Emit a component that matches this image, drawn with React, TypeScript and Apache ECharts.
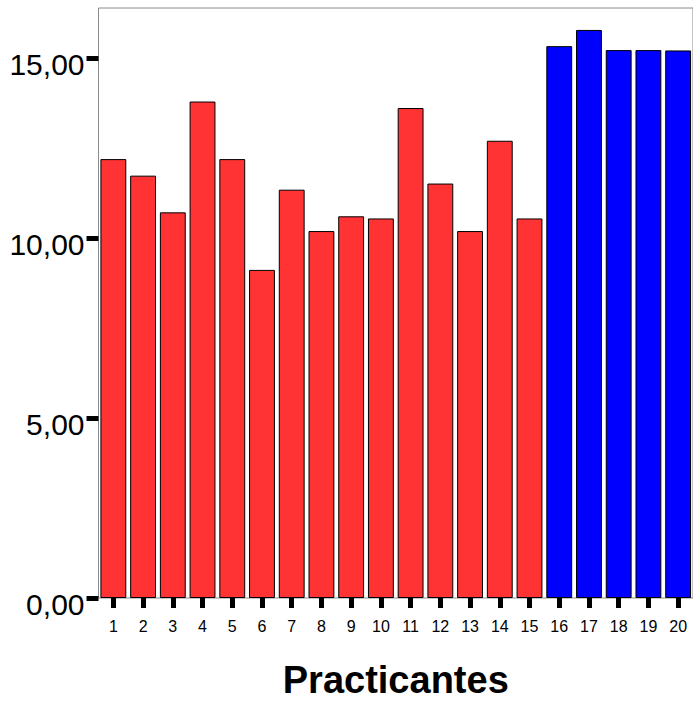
import React, { useEffect, useRef } from "react";
import * as echarts from "echarts";

const categories = ["1","2","3","4","5","6","7","8","9","10","11","12","13","14","15","16","17","18","19","20"];
const values = [12.2, 11.74, 10.72, 13.8, 12.2, 9.12, 11.35, 10.2, 10.61, 10.55, 13.62, 11.52, 10.2, 12.71, 10.55, 15.34, 15.79, 15.23, 15.23, 15.22];
const groups = ["A","A","A","A","A","A","A","A","A","A","A","A","A","A","A","B","B","B","B","B"];
const yTicks = [0, 5, 10, 15];
const xTitle = "Practicantes";

const groupColor: Record<string, string> = { A: "#FF3333", B: "#0000FF" };

export default function App() {
  const ref = useRef<HTMLDivElement>(null);
  useEffect(() => {
    if (!ref.current) return;
    const chart = echarts.init(ref.current, undefined, { renderer: "svg" });
    chart.setOption({
      animation: false,
      backgroundColor: "#ffffff",
      textStyle: { fontFamily: "Liberation Sans, Arial, sans-serif" },
      grid: {
        left: 98.5,
        right: -3.7,
        top: 8,
        bottom: 103,
        show: true,
        borderColor: "#8a8a8a",
        borderWidth: 1,
        backgroundColor: "transparent",
      },
      xAxis: {
        type: "category",
        data: categories,
        name: xTitle,
        nameLocation: "middle",
        nameGap: 63,
        nameTextStyle: { fontSize: 38, fontWeight: "bold", color: "#000", fontFamily: "Liberation Sans, Arial, sans-serif" },
        axisLine: { show: false },
        axisTick: { show: true, alignWithLabel: true, length: 10, lineStyle: { color: "#000", width: 5, cap: "butt" } },
        axisLabel: { color: "#000", fontSize: 16, margin: 20, interval: 0, fontFamily: "Liberation Sans, Arial, sans-serif" },
        splitLine: { show: false },
      },
      yAxis: {
        type: "value",
        min: 0,
        max: 16.4,
        interval: 5,
        axisLine: { show: false },
        axisTick: { show: true, length: 12, customValues: yTicks, lineStyle: { color: "#000", width: 5, cap: "butt" } },
        axisLabel: {
          color: "#000",
          fontSize: 30,
          margin: 14,
          verticalAlign: "top",
          lineHeight: 12,
          customValues: yTicks,
          fontFamily: "Liberation Sans, Arial, sans-serif",
          formatter: (v: number) => v.toFixed(2).replace(".", ","),
        },
        splitLine: { show: false },
      },
      series: [
        {
          type: "bar",
          data: values.map((v, i) => ({ value: v, itemStyle: { color: groupColor[groups[i]] } })),
          barCategoryGap: "13%",
          itemStyle: { borderColor: "#000", borderWidth: 1 },
        },
      ],
    });
    return () => chart.dispose();
  }, []);
  return (
    <div
      ref={ref}
      style={{ position: "absolute", left: 0, top: 0, width: 693, height: 704 }}
    />
  );
}
